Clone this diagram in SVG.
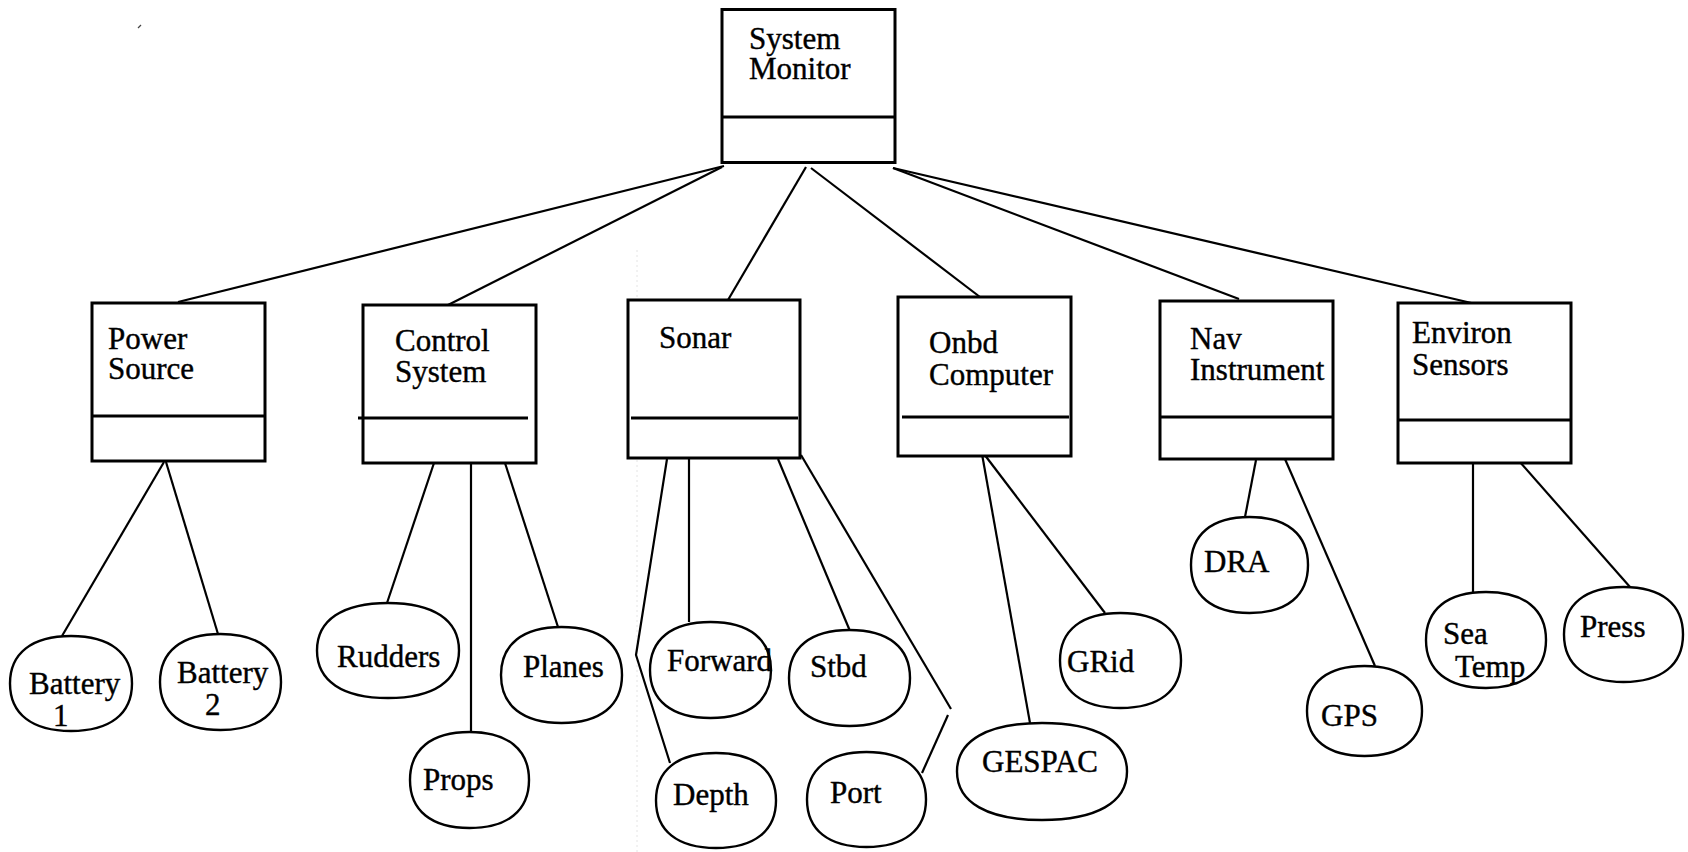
<svg xmlns="http://www.w3.org/2000/svg" width="1688" height="852" viewBox="0 0 1688 852">
<style>
.bg{fill:#fff}
.box{fill:#fff;stroke:#000;stroke-width:3}
.div{stroke:#000;stroke-width:3}
.leaf{fill:#fff;stroke:#000;stroke-width:2.4}
.c{stroke:#000;stroke-width:2.2;fill:none}
text{font-family:"Liberation Serif","Times New Roman",serif;font-size:31px;fill:#000;stroke:#000;stroke-width:0.4px}
.mid{text-anchor:middle}
</style>
<defs>
<symbol id="blob" viewBox="0 0 100 100" preserveAspectRatio="none" overflow="visible">
<path d="M0,50 C0,18 18,0 50,0 C82,0 100,18 100,50 C100,82 82,100 50,100 C18,100 0,82 0,50 Z" vector-effect="non-scaling-stroke"/>
</symbol>
</defs>
<rect class="bg" x="0" y="0" width="1688" height="852"/>
<line x1="637" y1="250" x2="637" y2="852" stroke="#e4e4e4" stroke-width="1" stroke-dasharray="2 3"/>
<line x1="138" y1="28" x2="141" y2="25" stroke="#444" stroke-width="1.2"/>
<g id="connectors">
<line class="c" x1="724" y1="166" x2="178" y2="302"/>
<line class="c" x1="722" y1="167" x2="448" y2="305"/>
<line class="c" x1="806" y1="167" x2="728" y2="300"/>
<line class="c" x1="811" y1="168" x2="980" y2="297"/>
<line class="c" x1="893" y1="168" x2="1239" y2="299"/>
<line class="c" x1="893" y1="168" x2="1480" y2="305"/>
<line class="c" x1="164" y1="462" x2="62" y2="636"/>
<line class="c" x1="166" y1="462" x2="218" y2="634"/>
<line class="c" x1="435" y1="460" x2="387" y2="603"/>
<line class="c" x1="471" y1="463" x2="471" y2="732"/>
<line class="c" x1="505" y1="463" x2="558" y2="627"/>
<polyline class="c" points="667,459 636,655 670,763"/>
<line class="c" x1="689" y1="459" x2="689" y2="622"/>
<line class="c" x1="778" y1="459" x2="850" y2="631"/>
<line class="c" x1="801" y1="455" x2="951" y2="709"/>
<line class="c" x1="948" y1="715" x2="922" y2="773"/>
<line class="c" x1="982" y1="454" x2="1030" y2="723"/>
<line class="c" x1="984" y1="454" x2="1105" y2="613"/>
<line class="c" x1="1256" y1="460" x2="1245" y2="517"/>
<line class="c" x1="1285" y1="459" x2="1375" y2="666"/>
<line class="c" x1="1473" y1="463" x2="1473" y2="592"/>
<line class="c" x1="1519" y1="461" x2="1630" y2="587"/>
</g>
<g id="system-monitor">
<rect class="box" x="722" y="9.5" width="173" height="153"/>
<line class="div" x1="722" y1="117" x2="895" y2="117"/>
<text x="749" y="49">System<tspan x="749" dy="30">Monitor</tspan></text>
</g>
<g id="power-source">
<rect class="box" x="92" y="303" width="173" height="158"/>
<line class="div" x1="92" y1="416" x2="265" y2="416"/>
<text x="108" y="349">Power<tspan x="108" dy="30">Source</tspan></text>
</g>
<g id="control-system">
<rect class="box" x="363" y="305" width="173" height="158"/>
<line class="div" x1="358" y1="418" x2="528" y2="418"/>
<text x="395" y="351">Control<tspan x="395" dy="31">System</tspan></text>
</g>
<g id="sonar">
<rect class="box" x="628" y="300" width="172" height="158"/>
<line class="div" x1="631" y1="418" x2="798" y2="418"/>
<text x="659" y="348">Sonar</text>
</g>
<g id="onbd-computer">
<rect class="box" x="898" y="297" width="173" height="159"/>
<line class="div" x1="902" y1="417" x2="1069" y2="417"/>
<text x="929" y="353">Onbd<tspan x="929" dy="32">Computer</tspan></text>
</g>
<g id="nav-instrument">
<rect class="box" x="1160" y="301" width="173" height="158"/>
<line class="div" x1="1160" y1="417" x2="1333" y2="417"/>
<text x="1190" y="349">Nav<tspan x="1190" dy="31">Instrument</tspan></text>
</g>
<g id="environ-sensors">
<rect class="box" x="1398" y="303" width="173" height="160"/>
<line class="div" x1="1398" y1="420" x2="1571" y2="420"/>
<text x="1412" y="343">Environ<tspan x="1412" dy="32">Sensors</tspan></text>
</g>
<g id="battery-1">
<use href="#blob" class="leaf" x="10" y="636" width="122" height="95"/>
<text x="29" y="694">Battery<tspan x="53" dy="32">1</tspan></text>
</g>
<g id="battery-2">
<use href="#blob" class="leaf" x="160" y="634" width="121" height="96"/>
<text x="177" y="683">Battery<tspan x="205" dy="32">2</tspan></text>
</g>
<g id="rudders">
<use href="#blob" class="leaf" x="317" y="603" width="142" height="95"/>
<text x="337" y="667">Rudders</text>
</g>
<g id="props">
<use href="#blob" class="leaf" x="410" y="732" width="119" height="96"/>
<text x="423" y="790">Props</text>
</g>
<g id="planes">
<use href="#blob" class="leaf" x="501" y="627" width="121" height="96"/>
<text x="523" y="677">Planes</text>
</g>
<g id="forward">
<use href="#blob" class="leaf" x="650" y="622" width="121" height="96"/>
<text x="667" y="671">Forward</text>
</g>
<g id="depth">
<use href="#blob" class="leaf" x="656" y="753" width="120" height="95"/>
<text x="673" y="805">Depth</text>
</g>
<g id="stbd">
<use href="#blob" class="leaf" x="789" y="630" width="121" height="96"/>
<text x="810" y="677">Stbd</text>
</g>
<g id="port">
<use href="#blob" class="leaf" x="807" y="752" width="119" height="95"/>
<text x="830" y="803">Port</text>
</g>
<g id="grid">
<use href="#blob" class="leaf" x="1060" y="613" width="121" height="95"/>
<text x="1067" y="672">GRid</text>
</g>
<g id="gespac">
<use href="#blob" class="leaf" x="957" y="723" width="170" height="97"/>
<text x="982" y="772">GESPAC</text>
</g>
<g id="dra">
<use href="#blob" class="leaf" x="1191" y="517" width="117" height="96"/>
<text x="1204" y="572">DRA</text>
</g>
<g id="gps">
<use href="#blob" class="leaf" x="1307" y="666" width="115" height="90"/>
<text x="1321" y="726">GPS</text>
</g>
<g id="sea-temp">
<use href="#blob" class="leaf" x="1426" y="592" width="120" height="96"/>
<text x="1443" y="644">Sea<tspan x="1455" dy="33">Temp</tspan></text>
</g>
<g id="press">
<use href="#blob" class="leaf" x="1564" y="587" width="119" height="95"/>
<text x="1580" y="637">Press</text>
</g>
</svg>
